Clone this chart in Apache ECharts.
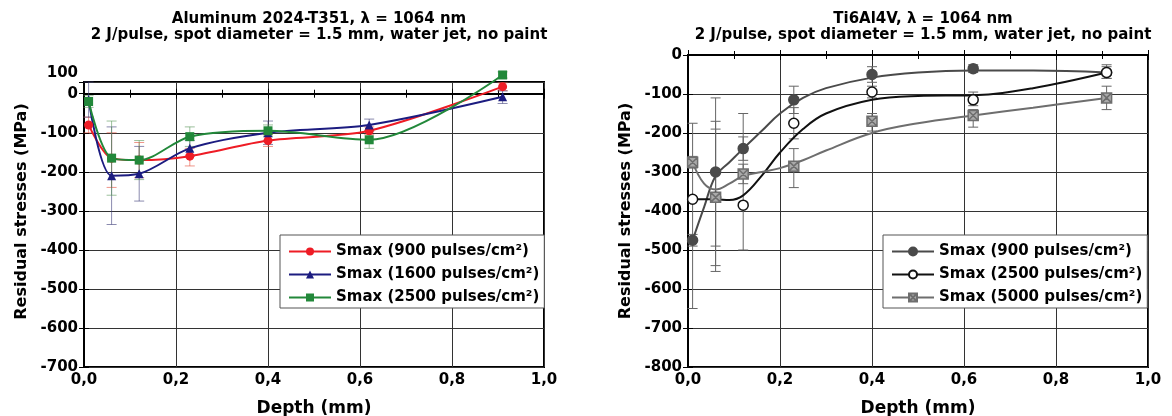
<!DOCTYPE html>
<html>
<head>
<meta charset="utf-8">
<script src="https://cdn.jsdelivr.net/npm/echarts@6/dist/echarts.min.js"></script>
<style>
  html, body { margin: 0; padding: 0; background: #fff; }
  #al { position: absolute; left: 0; top: 0; width: 586px; height: 416px; }
  #ti { position: absolute; left: 586px; top: 0; width: 586px; height: 416px; }
</style>
</head>
<body>
<div id="al"></div>
<div id="ti"></div>
<script>
// depths where stresses were measured (mm)
var depth = [0.01, 0.06, 0.12, 0.23, 0.40, 0.62, 0.91];

// Aluminum 2024-T351
var alNames = ['Smax (900 pulses/cm²)', 'Smax (1600 pulses/cm²)', 'Smax (2500 pulses/cm²)'];
var al900 = [-80, -165, -170, -160, -120, -95, 18];
var al1600 = [-15, -210, -205, -140, -100, -80, -8];
var al2500 = [-20, -165, -170, -110, -95, -118, 48];
var al900Lo = [-100, -240, -215, -185, -135, -105, 8];
var al900Hi = [-60, -100, -125, -140, -105, -85, 28];
var al1600Lo = [-60, -335, -275, -160, -130, -95, -25];
var al1600Hi = [30, -85, -135, -120, -70, -65, 7];
var al2500Lo = [-35, -260, -220, -135, -110, -140, 40];
var al2500Hi = [-5, -70, -120, -85, -80, -96, 56];

// Ti6Al4V
var tiNames = ['Smax (900 pulses/cm²)', 'Smax (2500 pulses/cm²)', 'Smax (5000 pulses/cm²)'];
var ti900 = [-475, -300, -240, -115, -50, -35, -45];
var ti2500 = [-370, -365, -385, -175, -95, -115, -45];
var ti5000 = [-275, -365, -305, -285, -170, -155, -110];
var ti900Lo = [-490, -490, -270, -150, -70, -45, -60];
var ti900Hi = [-460, -110, -210, -80, -30, -25, -30];
var ti2500Lo = [-650, -555, -500, -215, -110, -130, -60];
var ti2500Hi = [-175, -170, -150, -135, -80, -95, -25];
var ti5000Lo = [-290, -540, -330, -340, -195, -185, -140];
var ti5000Hi = [-260, -190, -280, -240, -150, -140, -80];

// fitted curves as drawn in the figure
var fitX = [0.01, 0.035, 0.06, 0.09, 0.12, 0.16, 0.2, 0.25, 0.3, 0.4, 0.5, 0.62, 0.75, 0.91];
var fit900 = [-475, -390, -310, -275, -240, -195, -150, -110, -85, -58, -45, -40, -40, -45];
var fit2500 = [-370, -370, -370, -372, -360, -310, -250, -190, -150, -115, -105, -103, -85, -45];
var fit5000 = [-275, -330, -345, -330, -310, -300, -290, -270, -245, -200, -175, -155, -135, -110];

var font = 'DejaVu Sans';

function pairs(xs, ys) {
    var out = [];
    for (var i = 0; i < xs.length; i++) out.push([xs[i], ys[i]]);
    return out;
}
function bars(xs, lo, hi) {
    var out = [];
    for (var i = 0; i < xs.length; i++) out.push([xs[i], lo[i], hi[i]]);
    return out;
}
function errSeries(data, color) {
    return {
        type: 'custom',
        data: data,
        z: 1,
        silent: true,
        renderItem: function (params, api) {
            var x = api.value(0);
            var a = api.coord([x, api.value(1)]);
            var b = api.coord([x, api.value(2)]);
            var w = 5;
            var st = { stroke: color, lineWidth: 1 };
            return {
                type: 'group',
                children: [
                    { type: 'line', shape: { x1: a[0], y1: a[1], x2: b[0], y2: b[1] }, style: st },
                    { type: 'line', shape: { x1: a[0] - w, y1: a[1], x2: a[0] + w, y2: a[1] }, style: st },
                    { type: 'line', shape: { x1: b[0] - w, y1: b[1], x2: b[0] + w, y2: b[1] }, style: st }
                ]
            };
        }
    };
}

function xAxes(name) {
    return [{
        type: 'value', min: 0, max: 1, interval: 0.2,
        name: name, nameLocation: 'middle', nameGap: 33,
        nameTextStyle: { fontFamily: font, fontWeight: 'bold', fontSize: 17, color: '#000' },
        axisLine: { lineStyle: { color: '#000', width: 2 } },
        axisTick: { inside: true, length: 5, lineStyle: { color: '#000' } },
        minorTick: { show: true, splitNumber: 2, length: 4, lineStyle: { color: '#000' } },
        axisLabel: {
            fontFamily: font, fontWeight: 'bold', fontSize: 15, color: '#000', margin: 6,
            formatter: function (v) { return v.toFixed(1).replace('.', ','); }
        },
        splitLine: { show: true, lineStyle: { color: '#333', width: 1 } }
    }, {
        type: 'value', min: 0, max: 1, interval: 0.2, position: 'top',
        axisLine: { lineStyle: { color: '#000', width: 2 } },
        axisTick: { inside: true, length: 5, lineStyle: { color: '#000' } },
        minorTick: { show: true, splitNumber: 2, length: 4, lineStyle: { color: '#000' } },
        axisLabel: { show: false },
        splitLine: { show: false }
    }];
}

function yAxes(min, max, fmt, namePad) {
    return [{
        type: 'value', min: min, max: max, interval: 100,
        name: 'Residual stresses (MPa)', nameLocation: 'middle', nameGap: 50,
        nameTextStyle: { fontFamily: font, fontWeight: 'bold', fontSize: 16, color: '#000', padding: namePad },
        axisLine: { show: true, lineStyle: { color: '#000', width: 2 } },
        axisTick: { show: true, inside: true, length: 5, lineStyle: { color: '#000' } },
        axisLabel: {
            fontFamily: font, fontWeight: 'bold', fontSize: 15, color: '#000', margin: 6,
            showMaxLabel: true, formatter: fmt,
            rich: { t: { fontFamily: font, fontWeight: 'bold', fontSize: 15, color: '#000', padding: [0, 0, 18, 0] } }
        },
        splitLine: { show: true, lineStyle: { color: '#333', width: 1 } }
    }, {
        type: 'value', min: min, max: max, interval: 100, position: 'right',
        axisLine: { show: true, lineStyle: { color: '#000', width: 2 } },
        axisTick: { show: true, inside: true, length: 5, lineStyle: { color: '#000' } },
        axisLabel: { show: false },
        splitLine: { show: false }
    }];
}

function titles(line1, cx) {
    return [{
        text: line1, left: cx, top: 7, textAlign: 'center',
        textStyle: { fontFamily: font, fontWeight: 'bold', fontSize: 15, color: '#000' }
    }, {
        text: '2 J/pulse, spot diameter = 1.5 mm, water jet, no paint', left: cx, top: 23, textAlign: 'center',
        textStyle: { fontFamily: font, fontWeight: 'bold', fontSize: 15, color: '#000' }
    }];
}

function legend(names, left) {
    return {
        data: names, orient: 'vertical', left: left, top: 235,
        backgroundColor: '#fff', borderColor: '#555', borderWidth: 1,
        padding: [9, 5, 3, 8], itemGap: 8, itemWidth: 42, itemHeight: 10,
        textStyle: { fontFamily: font, fontWeight: 'bold', fontSize: 15, color: '#000' }
    };
}

function grid(left, top, height) {
    return {
        left: left, top: top, width: 460, height: height, outerBoundsMode: 'none',
        show: true, borderColor: '#000', borderWidth: 2
    };
}

// ---------- Aluminum chart ----------
var alTop = 30;
var red = '#ee1c25', blue = '#1c1c80', green = '#22883a';
function alLine(name, vals, color, symbol) {
    return {
        name: name, type: 'line', data: pairs(depth, vals), smooth: 0.3, clip: false, z: 3,
        symbol: symbol, symbolSize: 9,
        lineStyle: { color: color, width: 2 },
        itemStyle: { color: color }
    };
}
var alChart = echarts.init(document.getElementById('al'));
alChart.setOption({
    animation: false,
    title: titles('Aluminum 2024-T351, λ = 1064 nm', 314),
    grid: grid(84, 82, 285),
    xAxis: xAxes('Depth (mm)'),
    yAxis: yAxes(-700, alTop, function (v) { return v === alTop ? '{t|100}' : String(v); }, [0, 0, 0, 26]),
    legend: legend(alNames, 280),
    series: [
        errSeries(bars(depth, al900Lo, al900Hi), 'rgba(230,80,60,0.6)'),
        errSeries(bars(depth, al1600Lo, al1600Hi), 'rgba(60,60,120,0.6)'),
        errSeries(bars(depth, al2500Lo, al2500Hi), 'rgba(90,150,90,0.6)'),
        alLine(alNames[0], al900, red, 'circle'),
        alLine(alNames[1], al1600, blue, 'triangle'),
        alLine(alNames[2], al2500, green, 'rect')
    ]
});

// ---------- Ti6Al4V chart ----------
var sqx = 'path://M0,0L10,0L10,10L0,10Z M0,0L10,10 M10,0L0,10';
function tiFit(name, vals, color, symbol, fill) {
    return {
        name: name, type: 'line', data: pairs(fitX, vals), smooth: 0.4, showSymbol: false, z: 3,
        symbol: symbol, symbolSize: 9,
        lineStyle: { color: color, width: 2 },
        itemStyle: { color: fill, borderColor: color, borderWidth: 1.5 }
    };
}
function tiPts(vals, color, symbol, fill) {
    return {
        type: 'scatter', data: pairs(depth, vals), z: 4,
        symbol: symbol, symbolSize: 10,
        itemStyle: { color: fill, borderColor: color, borderWidth: 1.5, opacity: 1 }
    };
}
var tiChart = echarts.init(document.getElementById('ti'));
tiChart.setOption({
    animation: false,
    title: titles('Ti6Al4V, λ = 1064 nm', 332),
    grid: grid(102, 55, 312),
    xAxis: xAxes('Depth (mm)'),
    yAxis: yAxes(-800, 0, function (v) { return String(v); }, 0),
    legend: legend(tiNames, 297),
    series: [
        errSeries(bars(depth, ti900Lo, ti900Hi), '#666'),
        errSeries(bars(depth, ti2500Lo, ti2500Hi), '#666'),
        errSeries(bars(depth, ti5000Lo, ti5000Hi), '#666'),
        tiFit(tiNames[0], fit900, '#4a4a4a', 'circle', '#4a4a4a'),
        tiFit(tiNames[1], fit2500, '#111', 'circle', '#fff'),
        tiFit(tiNames[2], fit5000, '#6e6e6e', sqx, '#aaa'),
        tiPts(ti900, '#4a4a4a', 'circle', '#4a4a4a'),
        tiPts(ti2500, '#111', 'circle', '#fff'),
        tiPts(ti5000, '#6e6e6e', sqx, '#aaa')
    ]
});
</script>
</body>
</html>
